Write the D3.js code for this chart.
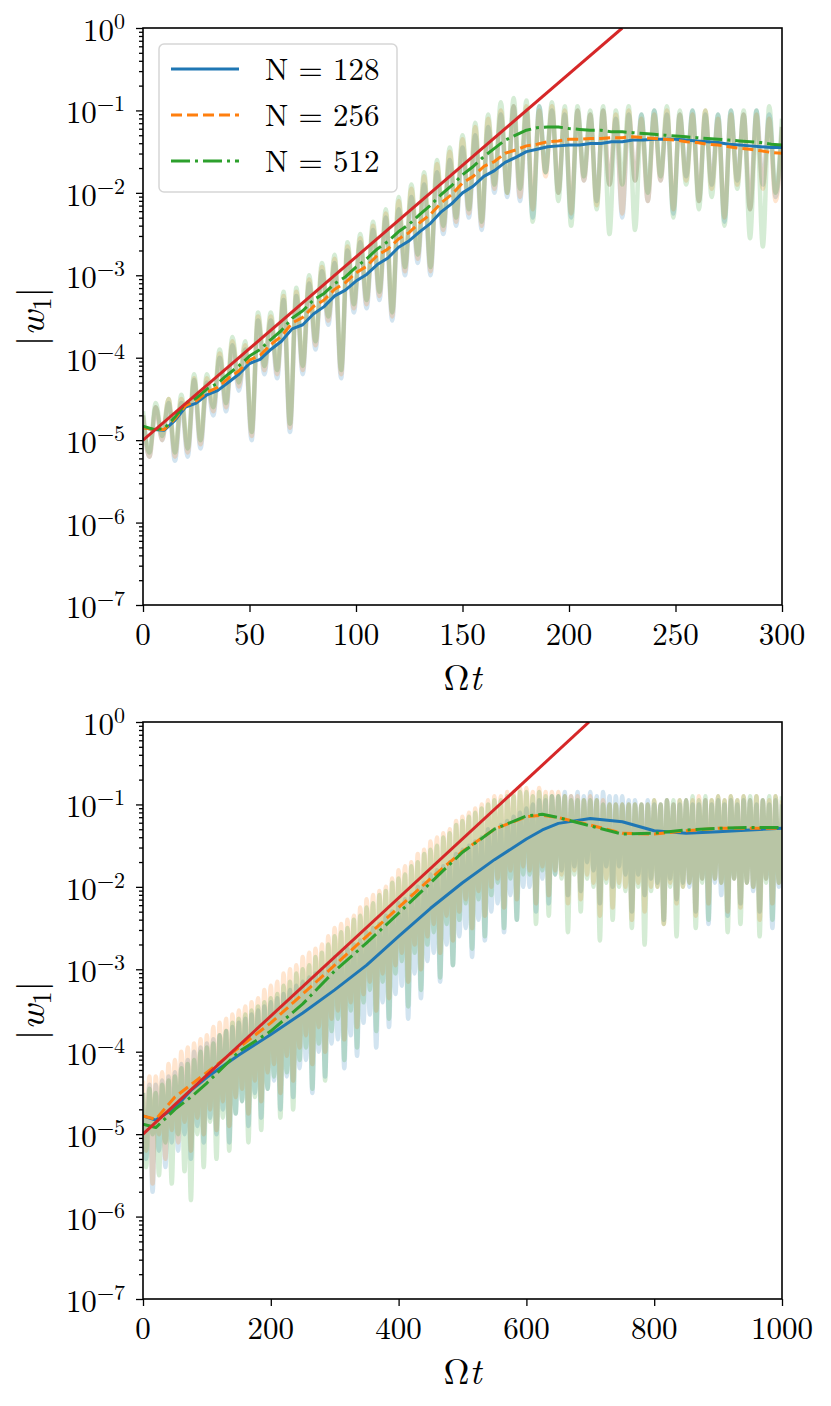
<!DOCTYPE html>
<html><head><meta charset="utf-8">
<script src="https://cdn.jsdelivr.net/npm/d3@7"></script>
<style>
body{margin:0;background:#fff}
</style>
</head><body>
<svg id="c" width="831" height="1406"></svg>
<script>
// ---------------- DATA ----------------
const seriesNames = ["N = 128", "N = 256", "N = 512"];
const xTicksTop = [0, 50, 100, 150, 200, 250, 300];
const xTicksBottom = [0, 200, 400, 600, 800, 1000];
const yTickExps = [0, -1, -2, -3, -4, -5, -6, -7];

// exponential fit lines (two end points each)
const topFitT = [0, 225];
const topFitV = [1e-5, 1];
const bottomFitT = [0, 698];
const bottomFitV = [1e-5, 1];

// top panel: running means, log10(|w1|), every 5 time units
const topMeanStep = 5;
const topMean128Exp = [-4.85,-4.87,-4.88,-4.76,-4.6,-4.55,-4.45,-4.40,-4.3,-4.2,-4.07,-4.02,-3.9,-3.8,-3.65,-3.6,-3.47,-3.38,-3.25,-3.18,-3.07,-2.99,-2.87,-2.79,-2.66,-2.58,-2.47,-2.37,-2.23,-2.13,-2.0,-1.92,-1.8,-1.73,-1.63,-1.57,-1.5,-1.47,-1.44,-1.43,-1.42,-1.42,-1.40,-1.40,-1.38,-1.38,-1.36,-1.36,-1.35,-1.35,-1.35,-1.36,-1.37,-1.38,-1.39,-1.41,-1.42,-1.43,-1.44,-1.45,-1.45];
const topMean256Exp = [-4.85,-4.87,-4.87,-4.74,-4.58,-4.52,-4.42,-4.36,-4.25,-4.16,-4.03,-3.97,-3.84,-3.74,-3.58,-3.51,-3.38,-3.3,-3.17,-3.09,-2.97,-2.89,-2.76,-2.68,-2.56,-2.48,-2.36,-2.26,-2.12,-2.02,-1.88,-1.8,-1.68,-1.62,-1.52,-1.48,-1.43,-1.41,-1.38,-1.37,-1.35,-1.35,-1.34,-1.34,-1.33,-1.33,-1.32,-1.33,-1.34,-1.35,-1.36,-1.38,-1.39,-1.41,-1.42,-1.44,-1.46,-1.47,-1.49,-1.51,-1.52];
const topMean512Exp = [-4.83,-4.87,-4.86,-4.72,-4.55,-4.49,-4.38,-4.31,-4.2,-4.1,-3.98,-3.9,-3.78,-3.67,-3.52,-3.43,-3.3,-3.22,-3.1,-3.02,-2.9,-2.8,-2.68,-2.59,-2.47,-2.38,-2.26,-2.15,-2.02,-1.91,-1.78,-1.68,-1.56,-1.46,-1.36,-1.30,-1.24,-1.21,-1.2,-1.2,-1.22,-1.23,-1.24,-1.24,-1.26,-1.26,-1.27,-1.28,-1.29,-1.3,-1.31,-1.32,-1.33,-1.34,-1.35,-1.36,-1.37,-1.38,-1.39,-1.41,-1.42];

// top panel: raw signal extrema, log10(|w1|), every 3 time units
const topRawStep = 3;
const topRaw128Exp = [
-4.7,-5.2,-4.6,-5.0,-4.55,-5.25,-4.55,-5.2,-4.27,-5.1,
-4.3,-4.7,-4.0,-4.65,-3.85,-4.4,-3.9,-5.0,-3.55,-4.2,
-3.55,-4.25,-3.3,-4.9,-3.25,-4.2,-3.1,-3.9,-2.95,-3.6,
-2.85,-4.25,-2.7,-3.45,-2.6,-3.4,-2.45,-3.3,-2.3,-3.55,
-2.2,-3.0,-2.05,-2.85,-1.9,-3.0,-1.75,-2.5,-1.6,-2.4,
-1.45,-2.3,-1.3,-2.45,-1.2,-2.0,-1.05,-2.05,-0.95,-2.1,
-1.0,-2.3,-0.95,-1.75,-1.0,-2.0,-1.05,-2.3,-1.0,-1.85,
-1.05,-2.1,-1.0,-1.9,-1.1,-2.3,-1.05,-1.85,-1.05,-2.1,
-1.0,-1.85,-1.05,-2.25,-1.05,-1.8,-1.0,-2.1,-1.05,-1.9,
-1.05,-2.35,-1.0,-1.85,-1.05,-2.2,-1.0,-1.9,-1.05,-2.05,
-1.2];
const topRaw256Exp = [
-4.7,-5.2,-4.6,-5.0,-4.5,-5.2,-4.5,-5.15,-4.25,-5.05,
-4.25,-4.65,-3.95,-4.6,-3.8,-4.35,-3.85,-4.95,-3.5,-4.15,
-3.5,-4.2,-3.25,-4.85,-3.2,-4.15,-3.05,-3.85,-2.9,-3.55,
-2.8,-4.2,-2.65,-3.4,-2.55,-3.35,-2.4,-3.25,-2.25,-3.5,
-2.1,-2.95,-1.95,-2.8,-1.8,-2.95,-1.65,-2.45,-1.5,-2.35,
-1.35,-2.25,-1.2,-2.4,-1.1,-1.95,-1.0,-2.0,-0.95,-2.05,
-0.95,-2.2,-1.0,-1.8,-0.95,-2.0,-1.0,-2.25,-1.0,-1.85,
-1.05,-2.15,-1.0,-1.9,-1.05,-2.25,-1.0,-1.85,-1.1,-2.1,
-1.05,-1.85,-1.0,-2.2,-1.05,-1.85,-1.05,-2.1,-1.0,-1.95,
-1.1,-2.3,-1.05,-1.9,-1.05,-2.2,-1.05,-1.95,-1.1,-2.1,
-1.2];
const topRaw512Exp = [
-4.65,-5.15,-4.55,-4.95,-4.5,-5.15,-4.45,-5.1,-4.2,-5.0,
-4.2,-4.6,-3.9,-4.55,-3.75,-4.3,-3.8,-4.9,-3.45,-4.1,
-3.45,-4.15,-3.2,-4.8,-3.15,-4.1,-3.0,-3.8,-2.85,-3.5,
-2.75,-4.15,-2.6,-3.35,-2.5,-3.3,-2.35,-3.2,-2.2,-3.45,
-2.05,-2.9,-1.9,-2.75,-1.75,-2.9,-1.6,-2.4,-1.45,-2.3,
-1.3,-2.2,-1.15,-2.35,-1.05,-1.9,-0.9,-2.0,-0.85,-1.95,
-0.88,-2.35,-0.95,-1.75,-0.9,-2.1,-0.95,-2.4,-0.95,-1.8,
-1.0,-2.2,-0.95,-2.5,-1.0,-1.9,-0.95,-2.45,-1.05,-2.0,
-1.0,-1.8,-0.95,-2.3,-1.0,-1.9,-1.0,-2.2,-1.0,-2.05,
-1.05,-2.4,-1.0,-1.95,-1.0,-2.55,-1.0,-2.65,-0.95,-2.0,
-1.1];

// bottom panel: running means, log10(|w1|)
const bottomMeanT = [0,20,50,75,100,150,200,250,300,350,400,450,500,550,600,625,650,700,750,800,850,900,950,1000];
const bottomMean128Exp = [-4.78,-4.83,-4.68,-4.47,-4.31,-4.04,-3.79,-3.53,-3.25,-2.95,-2.6,-2.26,-1.95,-1.67,-1.42,-1.31,-1.23,-1.17,-1.21,-1.32,-1.35,-1.33,-1.31,-1.29];
const bottomMean256Exp = [-4.78,-4.82,-4.55,-4.4,-4.25,-3.95,-3.65,-3.3,-2.95,-2.6,-2.25,-1.9,-1.57,-1.3,-1.15,-1.13,-1.16,-1.25,-1.35,-1.36,-1.32,-1.29,-1.29,-1.29];
const bottomMean512Exp = [-4.88,-4.92,-4.7,-4.55,-4.38,-4.0,-3.75,-3.42,-3.02,-2.68,-2.32,-1.95,-1.58,-1.3,-1.14,-1.12,-1.16,-1.26,-1.36,-1.35,-1.31,-1.29,-1.28,-1.28];

// bottom panel: raw signal extrema, log10(|w1|), every 5 time units
const bottomRawStep = 5;
const bottomRaw128Exp = [
-4.5,-5.3,-4.4,-5.7,-4.4,-5.2,-4.35,-5.4,-4.3,-5.1,
-4.25,-5.2,-4.15,-5.0,-4.1,-5.3,-4.0,-4.9,-3.95,-5.1,
-3.9,-4.8,-3.85,-5.0,-3.8,-4.7,-3.75,-5.1,-3.7,-4.75,
-3.65,-4.6,-3.6,-4.9,-3.55,-4.5,-3.5,-4.8,-3.45,-4.45,
-3.4,-4.35,-3.35,-4.7,-3.3,-4.3,-3.25,-4.55,-3.2,-4.2,
-3.15,-4.1,-3.1,-4.5,-3.05,-4.0,-3.0,-4.3,-2.95,-3.9,
-2.85,-3.85,-2.8,-4.2,-2.75,-3.8,-2.7,-4.05,-2.65,-3.65,
-2.55,-3.55,-2.5,-3.95,-2.45,-3.4,-2.35,-3.7,-2.3,-3.3,
-2.2,-3.2,-2.15,-3.6,-2.1,-3.05,-2.0,-3.35,-1.95,-2.9,
-1.85,-2.8,-1.8,-3.15,-1.75,-2.7,-1.7,-2.95,-1.6,-2.6,
-1.55,-2.5,-1.5,-2.85,-1.45,-2.4,-1.4,-2.65,-1.3,-2.3,
-1.3,-2.2,-1.25,-2.55,-1.2,-2.1,-1.15,-2.4,-1.1,-2.0,
-1.05,-2.0,-1.0,-2.3,-0.95,-1.9,-0.95,-2.2,-0.9,-1.85,
-0.9,-1.8,-0.85,-2.1,-0.9,-1.75,-0.85,-2.05,-0.9,-1.7,
-0.85,-1.8,-0.9,-2.2,-0.85,-1.75,-0.9,-2.0,-0.9,-1.75,
-0.9,-1.85,-0.95,-2.3,-0.95,-1.85,-1.0,-2.1,-0.95,-1.9,
-1.0,-1.95,-1.0,-2.4,-0.95,-1.9,-1.0,-2.15,-1.0,-1.95,
-0.95,-2.0,-1.0,-2.3,-1.0,-1.9,-0.95,-2.45,-1.0,-1.95,
-0.95,-2.1,-1.0,-2.35,-0.95,-1.9,-1.0,-2.2,-0.95,-1.95,
-0.95,-2.05,-1.0,-2.3,-0.95,-1.9,-1.0,-2.5,-0.95,-2.0,
-1.0];
const bottomRaw256Exp = [
-4.35,-5.2,-4.3,-5.6,-4.3,-5.0,-4.25,-5.3,-4.15,-4.95,
-4.1,-5.1,-4.0,-4.85,-3.95,-5.2,-3.9,-4.8,-3.85,-5.0,
-3.8,-4.7,-3.7,-4.95,-3.65,-4.6,-3.6,-4.9,-3.55,-4.55,
-3.5,-4.45,-3.45,-4.75,-3.4,-4.35,-3.35,-4.6,-3.25,-4.25,
-3.2,-4.15,-3.15,-4.5,-3.05,-4.05,-3.0,-4.35,-2.95,-3.95,
-2.85,-3.8,-2.8,-4.15,-2.75,-3.7,-2.7,-4.0,-2.6,-3.6,
-2.5,-3.5,-2.45,-3.85,-2.4,-3.4,-2.35,-3.7,-2.25,-3.3,
-2.15,-3.15,-2.1,-3.5,-2.05,-3.05,-2.0,-3.35,-1.9,-2.95,
-1.8,-2.8,-1.75,-3.15,-1.7,-2.7,-1.6,-3.0,-1.55,-2.6,
-1.45,-2.45,-1.4,-2.8,-1.35,-2.35,-1.3,-2.65,-1.2,-2.3,
-1.15,-2.15,-1.1,-2.5,-1.05,-2.05,-1.0,-2.35,-0.95,-2.0,
-0.9,-1.9,-0.9,-2.25,-0.85,-1.8,-0.85,-2.15,-0.8,-1.75,
-0.8,-1.8,-0.85,-2.2,-0.8,-1.75,-0.85,-2.1,-0.85,-1.8,
-0.85,-1.85,-0.9,-2.2,-0.9,-1.8,-0.9,-2.15,-0.95,-1.85,
-0.9,-1.95,-0.95,-2.35,-0.95,-1.9,-1.0,-2.25,-1.0,-1.95,
-1.0,-2.0,-1.0,-2.4,-1.0,-1.95,-1.0,-2.3,-1.0,-2.0,
-0.95,-2.0,-1.0,-2.45,-0.95,-1.95,-1.0,-2.2,-0.95,-2.0,
-0.95,-1.95,-0.95,-2.35,-0.9,-1.9,-0.95,-2.2,-0.95,-1.9,
-0.9,-1.95,-0.95,-2.3,-0.9,-1.9,-0.95,-2.25,-0.9,-1.95,
-0.95,-2.0,-0.9,-2.4,-0.95,-1.9,-0.95,-2.2,-0.9,-1.95,
-0.95];
const bottomRaw512Exp = [
-4.5,-5.4,-4.45,-5.0,-4.5,-5.5,-4.4,-5.1,-4.35,-5.6,
-4.3,-5.0,-4.2,-5.45,-4.15,-5.8,-4.1,-5.0,-4.0,-5.4,
-3.95,-4.85,-3.9,-5.3,-3.8,-4.8,-3.75,-5.2,-3.65,-4.75,
-3.6,-4.6,-3.55,-5.1,-3.5,-4.55,-3.45,-4.95,-3.4,-4.45,
-3.35,-4.3,-3.3,-4.8,-3.2,-4.25,-3.15,-4.7,-3.05,-4.1,
-3.0,-3.95,-2.95,-4.45,-2.85,-3.9,-2.8,-4.35,-2.7,-3.75,
-2.6,-3.6,-2.55,-4.1,-2.5,-3.5,-2.4,-3.95,-2.35,-3.4,
-2.25,-3.25,-2.2,-3.75,-2.1,-3.15,-2.05,-3.6,-1.95,-3.05,
-1.9,-2.9,-1.85,-3.45,-1.75,-2.8,-1.7,-3.25,-1.6,-2.7,
-1.55,-2.55,-1.5,-3.1,-1.4,-2.45,-1.35,-2.95,-1.25,-2.4,
-1.2,-2.2,-1.15,-2.75,-1.1,-2.15,-1.05,-2.6,-1.0,-2.1,
-0.95,-1.95,-0.95,-2.5,-0.9,-1.9,-0.9,-2.4,-0.85,-1.85,
-0.85,-1.85,-0.9,-2.45,-0.85,-1.8,-0.9,-2.35,-0.9,-1.85,
-0.9,-1.9,-0.9,-2.55,-0.95,-1.85,-0.95,-2.3,-0.95,-1.9,
-0.95,-2.0,-0.95,-2.65,-1.0,-1.95,-1.0,-2.4,-1.0,-2.0,
-1.0,-2.05,-1.0,-2.5,-1.0,-2.0,-1.0,-2.7,-1.0,-2.05,
-0.95,-2.0,-1.0,-2.45,-0.95,-2.0,-0.95,-2.6,-0.95,-2.0,
-0.95,-1.95,-0.9,-2.5,-0.95,-1.95,-0.9,-2.4,-0.95,-1.9,
-0.9,-1.95,-0.95,-2.55,-0.9,-1.9,-0.95,-2.45,-0.9,-1.95,
-0.9,-2.0,-0.9,-2.6,-0.95,-1.95,-0.9,-2.4,-0.9,-1.95,
-0.9];

// ---------------- STYLE ----------------
const FONT = "'Latin Modern Roman', monospace";
const colors = ["#1f77b4", "#ff7f0e", "#2ca02c"];
const dashes = [null, "11,5", "19,5,3,5"];
const fitColor = "#d62728";
const L = 143, R = 782;

const panels = [
  {top: 28, bottom: 605, xDomain: [0, 300], xTicks: xTicksTop, rawStep: topRawStep,
   raws: [topRaw128Exp, topRaw256Exp, topRaw512Exp],
   meanT: topMean128Exp.map((_, i) => i * topMeanStep),
   means: [topMean128Exp, topMean256Exp, topMean512Exp], fitT: topFitT, fitV: topFitV, legend: true},
  {top: 722, bottom: 1299, xDomain: [0, 1000], xTicks: xTicksBottom, rawStep: bottomRawStep,
   raws: [bottomRaw128Exp, bottomRaw256Exp, bottomRaw512Exp], meanT: bottomMeanT,
   means: [bottomMean128Exp, bottomMean256Exp, bottomMean512Exp], fitT: bottomFitT, fitV: bottomFitV, legend: false}
];

const svg = d3.select("#c");
function txt(sel) {
  return sel.append("text").style("font-family", FONT).attr("fill", "#000");
}
const minorVals = [];
for (let k = -7; k < 0; k++) for (let m = 2; m <= 9; m++) minorVals.push(m * Math.pow(10, k));

panels.forEach((p, pi) => {
  const x = d3.scaleLinear().domain(p.xDomain).range([L, R]);
  const y = d3.scaleLog().domain([1e-7, 1]).range([p.bottom, p.top]);
  const clipId = "clip" + pi;
  svg.append("clipPath").attr("id", clipId).append("rect")
    .attr("x", L).attr("y", p.top).attr("width", R - L).attr("height", p.bottom - p.top);
  const g = svg.append("g").attr("clip-path", `url(#${clipId})`);

  const rawLine = d3.line().x(d => x(d[0])).y(d => y(d[1])).curve(d3.curveMonotoneX);
  const line = d3.line().x(d => x(d[0])).y(d => y(d[1]));

  // raw (faint) signals
  p.raws.forEach((arr, si) => {
    const data = arr.map((e, i) => [i * p.rawStep, Math.pow(10, e)]);
    g.append("path").attr("d", rawLine(data)).attr("fill", "none")
      .attr("stroke", colors[si]).attr("stroke-opacity", 0.2).attr("stroke-width", 4.5)
      .attr("stroke-linejoin", "round");
  });
  // running means
  p.means.forEach((arr, si) => {
    const data = arr.map((e, i) => [p.meanT[i], Math.pow(10, e)]);
    const path = g.append("path").attr("d", line(data)).attr("fill", "none")
      .attr("stroke", colors[si]).attr("stroke-width", 3).attr("stroke-linejoin", "round");
    if (dashes[si]) path.attr("stroke-dasharray", dashes[si]);
  });
  // fit line
  g.append("path").attr("d", line(p.fitT.map((t, i) => [t, p.fitV[i]])))
    .attr("fill", "none").attr("stroke", fitColor).attr("stroke-width", 3);

  // axes ticks
  const ax = svg.append("g").attr("transform", `translate(0,${p.bottom})`)
    .call(d3.axisBottom(x).tickValues(p.xTicks).tickSize(7).tickFormat(() => ""));
  const ayMinor = svg.append("g").attr("transform", `translate(${L},0)`)
    .call(d3.axisLeft(y).tickValues(minorVals).tickSize(4).tickFormat(() => ""));
  const ayMajor = svg.append("g").attr("transform", `translate(${L},0)`)
    .call(d3.axisLeft(y).tickValues(yTickExps.map(e => Math.pow(10, e))).tickSize(7).tickFormat(() => ""));
  [ax, ayMinor, ayMajor].forEach(a => {
    a.select(".domain").remove();
    a.selectAll("text").remove();
    a.selectAll("line").attr("stroke", "#000").attr("stroke-width", 1.3);
  });

  // frame
  svg.append("rect").attr("x", L).attr("y", p.top).attr("width", R - L).attr("height", p.bottom - p.top)
    .attr("fill", "none").attr("stroke", "#000").attr("stroke-width", 1.6);

  // x tick labels
  p.xTicks.forEach(v => {
    txt(svg).attr("x", x(v)).attr("y", p.bottom + 40).attr("text-anchor", "middle")
      .attr("font-size", 31).text(v);
  });
  // y tick labels
  yTickExps.forEach(e => {
    const t = txt(svg).attr("x", 125).attr("y", y(Math.pow(10, e)) + 13)
      .attr("text-anchor", "end").attr("font-size", 31);
    t.append("tspan").text("10");
    t.append("tspan").attr("dy", -12).attr("font-size", 22).text(e === 0 ? "0" : "\u2212" + (-e));
  });

  // axis labels
  const xl = txt(svg).attr("x", (L + R) / 2).attr("y", p.bottom + 85)
    .attr("text-anchor", "middle").attr("font-size", 36);
  xl.append("tspan").text("\u03A9");
  xl.append("tspan").attr("font-style", "italic").text("t");

  const yl = txt(svg).attr("transform", `translate(44,${(p.top + p.bottom) / 2}) rotate(-90)`)
    .attr("text-anchor", "middle").attr("font-size", 38);
  yl.append("tspan").text("|");
  yl.append("tspan").attr("font-style", "italic").text("w");
  yl.append("tspan").attr("dy", 7).attr("font-size", 26).text("1");
  yl.append("tspan").attr("dy", -7).text("|");

  // legend
  if (p.legend) {
    const lg = svg.append("g");
    lg.append("rect").attr("x", 159).attr("y", 44).attr("width", 238).attr("height", 148)
      .attr("rx", 5).attr("fill", "#fff").attr("fill-opacity", 0.8)
      .attr("stroke", "#d6d6d6").attr("stroke-width", 1.5);
    seriesNames.forEach((name, si) => {
      const yy = 69 + si * 46;
      const ln = lg.append("line").attr("x1", 171).attr("x2", 239).attr("y1", yy).attr("y2", yy)
        .attr("stroke", colors[si]).attr("stroke-width", 3);
      if (dashes[si]) ln.attr("stroke-dasharray", dashes[si]);
      txt(lg).attr("x", 265).attr("y", yy + 11).attr("font-size", 31).text(name);
    });
  }
});
</script>
</body></html>
